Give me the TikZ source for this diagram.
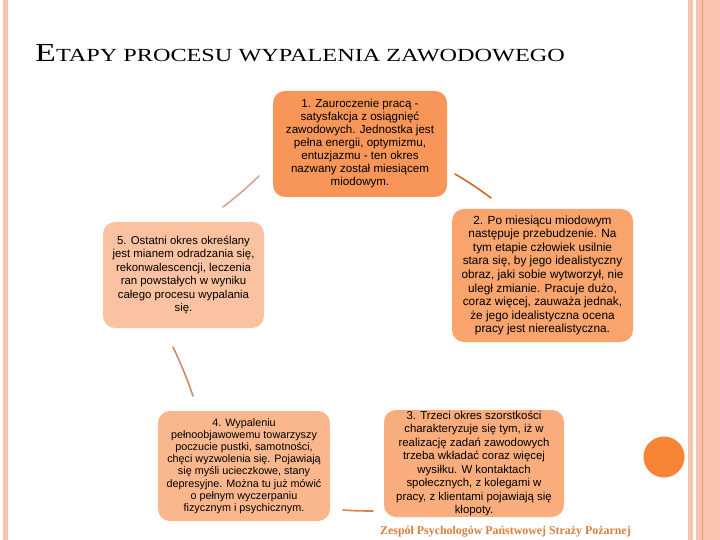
\documentclass[tikz,border=0pt]{standalone}
\usepackage{fontspec}
\setmainfont{Liberation Serif}
\newfontfamily\arialf{Liberation Sans}
\definecolor{stripe}{HTML}{F7C4B0}
\definecolor{stripedark}{HTML}{E8956B}
\definecolor{dotc}{HTML}{F78535}
\definecolor{bA}{HTML}{F8965A}
\definecolor{bB}{HTML}{F9A36D}
\definecolor{bC}{HTML}{F9AD7D}
\definecolor{bD}{HTML}{FAB78D}
\definecolor{bE}{HTML}{FBC2A1}
\definecolor{lnA}{HTML}{D9A496}
\definecolor{lnB}{HTML}{C8692E}
\definecolor{lnC}{HTML}{E07F48}
\definecolor{lnD}{HTML}{D08B6E}
\definecolor{foot}{HTML}{DA7E3C}
\tikzset{
  stage/.style={rounded corners=12pt, align=center, inner sep=0pt},
  conn/.style={line width=1.6pt, line cap=round},
}
\begin{document}
\begin{tikzpicture}[x=1pt,y=-1pt]
\useasboundingbox (0,0) rectangle (720,540);
\fill[white] (0,0) rectangle (720,540);
% borders
\fill[stripe] (3,0) rectangle (8,540);
\fill[stripe] (688,0) rectangle (693,540);
\fill[stripe] (696,0) rectangle (720,540);
\fill[stripedark] (702,0) rectangle (703.2,540);
\fill[dotc] (664,457) circle (20.5);
% title
\node[anchor=base west, inner sep=0pt] (title) at (35,62)
  {\scalebox{1.31}[1]{\fontsize{26}{26}\selectfont E\fontsize{18.5}{18.5}\selectfont TAPY PROCESU WYPALENIA ZAWODOWEGO}};
% stages
\node[stage, fill=bA, minimum width=174pt, minimum height=106pt, font=\arialf\fontsize{11.6}{13}\selectfont] (s1) at (360,144)
  {1. Zauroczenie pracą -\\satysfakcja z osiągnięć\\zawodowych. Jednostka jest\\pełna energii, optymizmu,\\entuzjazmu - ten okres\\nazwany został miesiącem\\miodowym.};
\node[stage, fill=bB, minimum width=181pt, minimum height=133pt, font=\arialf\fontsize{11.8}{13.6}\selectfont] (s2) at (542.5,275.5)
  {2. Po miesiącu miodowym\\następuje przebudzenie. Na\\tym etapie człowiek usilnie\\stara się, by jego idealistyczny\\obraz, jaki sobie wytworzył, nie\\uległ zmianie. Pracuje dużo,\\coraz więcej, zauważa jednak,\\że jego idealistyczna ocena\\pracy jest nierealistyczna.};
\node[stage, fill=bC, minimum width=180pt, minimum height=107pt, font=\arialf\fontsize{11.4}{13.5}\selectfont] (s3) at (474,463.5)
  {3. Trzeci okres szorstkości\\charakteryzuje się tym, iż w\\realizację zadań zawodowych\\trzeba wkładać coraz więcej\\wysiłku. W kontaktach\\społecznych, z kolegami w\\pracy, z klientami pojawiają się\\kłopoty.};
\node[stage, fill=bD, minimum width=172pt, minimum height=110pt, font=\arialf\fontsize{10.8}{12.2}\selectfont] (s4) at (244,466)
  {4. Wypaleniu\\pełnoobjawowemu towarzyszy\\poczucie pustki, samotności,\\chęci wyzwolenia się. Pojawiają\\się myśli ucieczkowe, stany\\depresyjne. Można tu już mówić\\o pełnym wyczerpaniu\\fizycznym i psychicznym.};
\node[stage, fill=bE, minimum width=161pt, minimum height=106pt, font=\arialf\fontsize{11.4}{13.4}\selectfont] (s5) at (183.5,275)
  {5. Ostatni okres określany\\jest mianem odradzania się,\\rekonwalescencji, leczenia\\ran powstałych w wyniku\\całego procesu wypalania\\się.};
% connectors
\coordinate (c12a) at (455,174);
\coordinate (c12b) at (491,198);
\coordinate (c34a) at (373,511);
\coordinate (c34b) at (343,510);
\coordinate (c45a) at (193,396);
\coordinate (c45b) at (173,347);
\coordinate (c51a) at (223,207);
\coordinate (c51b) at (259,176);
\draw[conn, lnB] (c12a) to[bend left=3] (c12b);
\draw[conn, lnC] (c34a) to[bend left=2] (c34b);
\draw[conn, lnD] (c45a) to[bend right=3] (c45b);
\draw[conn, lnA] (c51a) to[bend right=3] (c51b);
% footer
\node[anchor=base west, inner sep=0pt, text=foot, font=\bfseries\fontsize{11.9}{12}\selectfont] (foot) at (380,534)
  {Zespół Psychologów Państwowej Straży Pożarnej};
\end{tikzpicture}
\end{document}
